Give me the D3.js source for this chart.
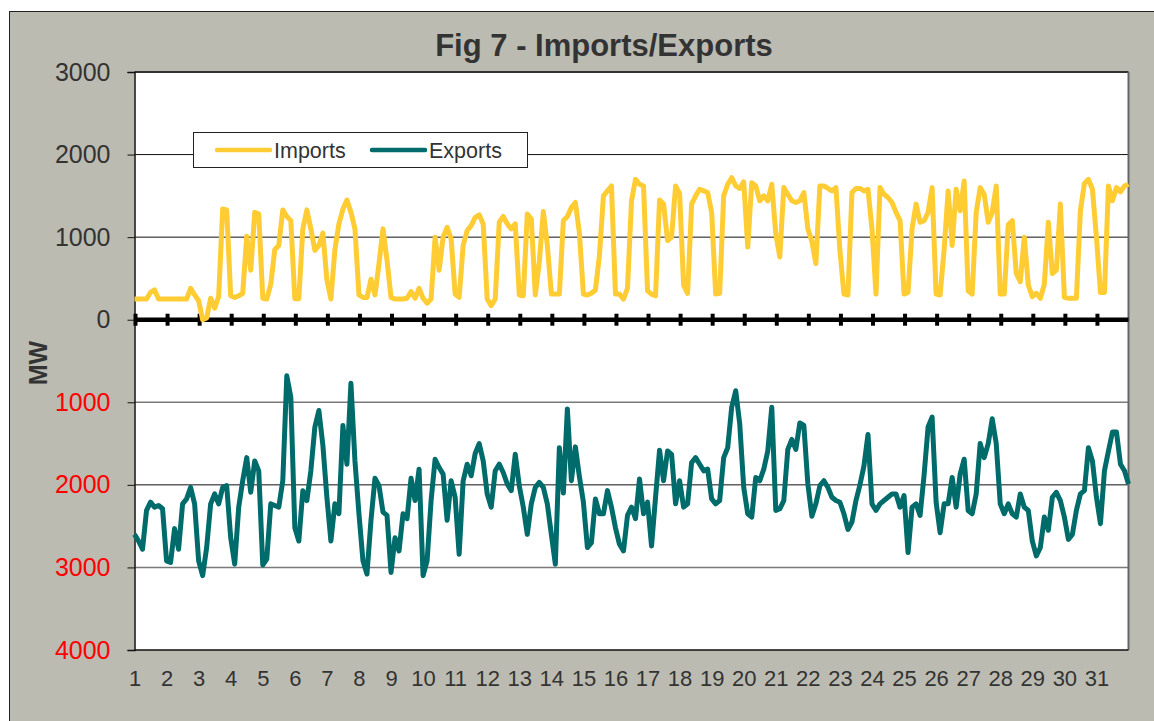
<!DOCTYPE html>
<html>
<head>
<meta charset="utf-8">
<script src="https://cdn.jsdelivr.net/npm/d3@7"></script>
<style>
  body { margin: 0; background: #fff; }
  svg { display: block; font-family: Arial, "Liberation Sans", sans-serif; }
</style>
</head>
<body>
<svg id="chart" width="1154" height="721"></svg>
<script>
// three-hourly readings (8 per day), day 1 .. day 31, plus closing reading
const dayLabels = d3.range(1, 32);
const stepsPerDay = 8;

const importsMW = [
  250,250,250,250,330,360,250,250,
  250,250,250,250,250,250,380,300,
  230,0,20,260,140,280,1340,1330,
  290,270,290,320,1010,600,1300,1280,
  260,250,430,850,900,1330,1250,1200,
  255,255,1100,1330,1100,840,900,1050,
  480,250,850,1160,1340,1450,1300,1100,
  300,270,270,490,300,680,1100,720,
  270,250,250,250,260,340,260,380,
  260,200,250,1000,600,1000,1120,980,
  310,270,900,1080,1140,1240,1270,1160,
  250,170,250,1180,1250,1160,1100,1160,
  300,290,1280,1220,300,700,1310,900,
  310,310,310,1200,1250,1360,1420,1050,
  310,300,320,360,780,1500,1560,1620,
  310,310,250,380,1440,1700,1640,1620,
  350,310,290,1450,1400,960,1000,1620,
  1530,420,320,1400,1500,1580,1560,1540,
  1300,310,320,1500,1640,1720,1620,1590,
  1670,880,1660,1620,1440,1500,1440,1640,
  1040,760,1600,1520,1440,1420,1440,1540,
  1100,950,680,1620,1620,1590,1560,1600,
  840,310,300,1540,1590,1590,1560,1580,
  1100,310,1600,1520,1480,1420,1300,1200,
  310,330,1100,1400,1180,1200,1300,1600,
  310,300,850,1560,900,1580,1320,1680,
  350,310,1300,1600,1520,1180,1300,1620,
  310,310,1150,1200,560,460,1000,420,
  280,320,260,430,1180,560,600,1400,
  270,260,260,260,1320,1650,1700,1580,
  1000,330,330,1620,1440,1600,1550,1620,
  1640
];

const exportsMW = [
  2600,2680,2780,2310,2210,2270,2250,2290,
  2920,2940,2530,2780,2230,2170,2030,2230,
  2920,3100,2760,2230,2110,2230,2030,2010,
  2640,2960,2270,1950,1670,2090,1710,1830,
  2970,2900,2230,2250,2270,1950,680,940,
  2520,2680,2070,2190,1830,1300,1100,1520,
  2150,2680,2230,2350,1280,1750,770,1710,
  2350,2920,3080,2430,1920,2010,2330,2370,
  3060,2640,2800,2350,2410,1920,2190,1810,
  3100,2920,2190,1690,1790,1870,2430,1950,
  2150,2840,1950,1750,1890,1620,1500,1710,
  2110,2270,1830,1750,1850,1990,2070,1630,
  2010,2270,2600,2230,2030,1970,2030,2230,
  2600,2960,1550,2100,1080,1950,1540,1900,
  2210,2760,2700,2170,2350,2350,2070,2270,
  2520,2720,2800,2370,2270,2410,1930,2350,
  2210,2740,2150,1580,1950,1590,1630,2230,
  1950,2270,2230,1730,1670,1750,1830,1810,
  2170,2230,2190,1670,1550,1060,860,1260,
  2030,2350,2390,1910,1950,1810,1590,1060,
  2310,2290,2190,1570,1450,1570,1250,1280,
  1990,2380,2230,2010,1950,2030,2150,2190,
  2210,2350,2540,2450,2190,2000,1770,1390,
  2230,2310,2230,2190,2150,2110,2110,2270,
  2130,2820,2270,2230,2370,1880,1300,1180,
  2210,2580,2230,2230,1910,2270,1870,1690,
  2310,2350,2110,1500,1670,1500,1200,1500,
  2230,2350,2230,2350,2390,2110,2270,2310,
  2680,2860,2760,2390,2550,2150,2090,2190,
  2390,2660,2600,2310,2110,2070,1550,1710,
  2150,2470,1830,1590,1360,1360,1750,1830,
  1990
];

const yTicks = [-4000, -3000, -2000, -1000, 0, 1000, 2000, 3000];
const gridLines = [2000, 1000, -1000, -2000, -3000];

const svg = d3.select("#chart");
const plot = { left: 134.5, top: 72, right: 1128.5, bottom: 650 };

// outer chart area
svg.append("rect")
  .attr("x", 9.5).attr("y", 11.5)
  .attr("width", 1160).attr("height", 720)
  .attr("fill", "#bbbbb1")
  .attr("stroke", "#222").attr("stroke-width", 1);

svg.append("rect")
  .attr("x", plot.left).attr("y", plot.top)
  .attr("width", plot.right - plot.left).attr("height", plot.bottom - plot.top)
  .attr("fill", "#fff");

const x = d3.scaleLinear().domain([0, dayLabels.length]).range([plot.left, plot.right]);
const y = d3.scaleLinear().domain([-4000, 3000]).range([plot.bottom, plot.top]);

// gridlines
svg.append("g").selectAll("line")
  .data(gridLines)
  .join("line")
  .attr("x1", plot.left).attr("x2", plot.right)
  .attr("y1", d => y(d)).attr("y2", d => y(d))
  .attr("stroke", d => (d === 1000 || d === 2000 || d === -2000) ? "#111" : "#7a7a7a")
  .attr("stroke-width", d => (d === 1000 || d === 2000 || d === -2000) ? 1 : 1.6);

// plot frame
svg.append("path")
  .attr("d", `M${plot.left},${plot.top}H${plot.right}`)
  .attr("stroke", "#333").attr("stroke-width", 2);
svg.append("path")
  .attr("d", `M${plot.right},${plot.top}V${plot.bottom}`)
  .attr("stroke", "#666").attr("stroke-width", 2);
svg.append("path")
  .attr("d", `M${plot.left},${plot.bottom}H${plot.right}`)
  .attr("stroke", "#111").attr("stroke-width", 1.5);

// y axis
const yAxis = svg.append("g")
  .attr("transform", `translate(${plot.left},0)`)
  .call(d3.axisLeft(y).tickValues(yTicks).tickFormat(d => Math.abs(d)).tickSize(7).tickPadding(17));
yAxis.select(".domain").attr("stroke", "#111").attr("stroke-width", 1.5);
yAxis.selectAll(".tick line").attr("stroke", "#111");
yAxis.selectAll(".tick text")
  .attr("font-size", 25)
  .attr("font-family", "Arial, 'Liberation Sans', sans-serif")
  .attr("fill", d => d < 0 ? "#ff0000" : "#333");

// x axis labels (day of month)
const xAxis = svg.append("g")
  .attr("transform", `translate(0,${plot.bottom})`)
  .call(d3.axisBottom(x).tickValues(d3.range(dayLabels.length)).tickFormat(d => dayLabels[d]).tickSize(0).tickPadding(20));
xAxis.select(".domain").remove();
xAxis.selectAll(".tick text")
  .attr("font-size", 22)
  .attr("font-family", "Arial, 'Liberation Sans', sans-serif")
  .attr("fill", "#333");

// zero axis with day tick marks
svg.append("line")
  .attr("x1", plot.left).attr("x2", plot.right)
  .attr("y1", y(0)).attr("y2", y(0))
  .attr("stroke", "#000").attr("stroke-width", 4.5);
svg.append("g").selectAll("line")
  .data(d3.range(dayLabels.length))
  .join("line")
  .attr("x1", d => x(d) + 1).attr("x2", d => x(d) + 1)
  .attr("y1", y(0) - 6).attr("y2", y(0) + 6)
  .attr("stroke", "#000").attr("stroke-width", 4);

// series
const line = d3.line()
  .x((d, i) => x(i / stepsPerDay))
  .y(d => y(d));

svg.append("path")
  .datum(importsMW)
  .attr("d", line)
  .attr("fill", "none")
  .attr("stroke", "#ffcc33")
  .attr("stroke-width", 5)
  .attr("stroke-linejoin", "round");

svg.append("path")
  .datum(exportsMW.map(v => -v))
  .attr("d", line)
  .attr("fill", "none")
  .attr("stroke", "#006b6b")
  .attr("stroke-width", 5)
  .attr("stroke-linejoin", "round");

// legend
const legend = svg.append("g");
legend.append("rect")
  .attr("x", 193.5).attr("y", 132.5).attr("width", 334).attr("height", 35)
  .attr("fill", "#fff").attr("stroke", "#222").attr("stroke-width", 1);
const items = [
  { name: "Imports", color: "#ffcc33", x0: 217 },
  { name: "Exports", color: "#006b6b", x0: 372 }
];
items.forEach(it => {
  legend.append("line")
    .attr("x1", it.x0).attr("x2", it.x0 + 53)
    .attr("y1", 150).attr("y2", 150)
    .attr("stroke", it.color).attr("stroke-width", 4.5).attr("stroke-linecap", "round");
  legend.append("text")
    .attr("x", it.x0 + 57).attr("y", 157.5)
    .attr("font-size", 21.5).attr("fill", "#333")
    .text(it.name);
});

// title and axis label
svg.append("text")
  .attr("x", 604).attr("y", 56)
  .attr("text-anchor", "middle")
  .attr("font-size", 31).attr("font-weight", "bold").attr("fill", "#333")
  .text("Fig 7 - Imports/Exports");

svg.append("text")
  .attr("transform", "translate(47,363) rotate(-90)")
  .attr("text-anchor", "middle")
  .attr("font-size", 25).attr("font-weight", "bold").attr("fill", "#333")
  .text("MW");
</script>
</body>
</html>
